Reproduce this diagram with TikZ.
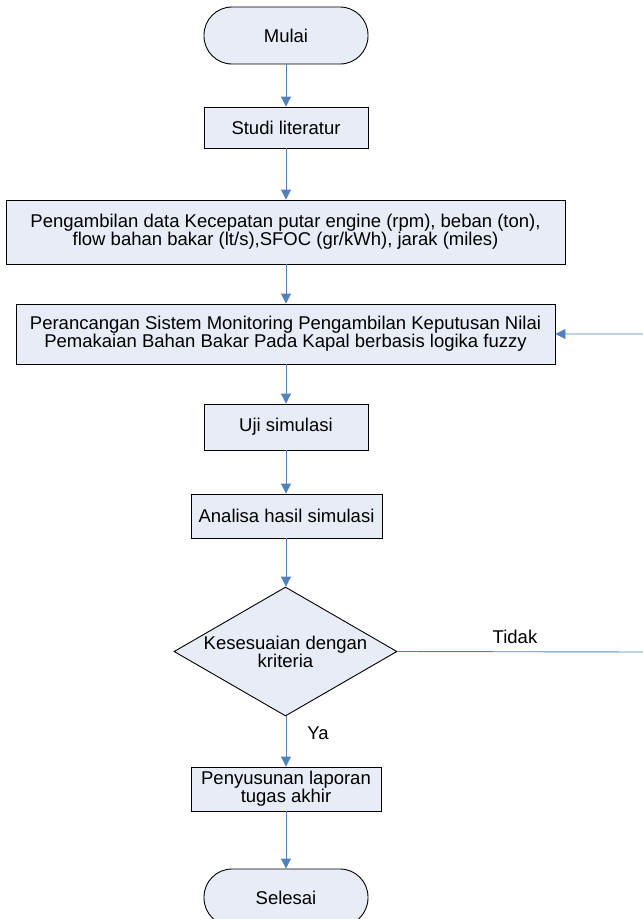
\documentclass[tikz,border=0pt]{standalone}
\usepackage{fontspec}
\setmainfont{Liberation Sans}
\usetikzlibrary{shapes.geometric,arrows.meta}
\definecolor{isian}{RGB}{231,236,247}
\definecolor{panah}{RGB}{79,129,189}
\begin{document}
\begin{tikzpicture}[x=1pt,y=-1pt,font=\fontsize{18.5}{18}\selectfont,
            proses/.style={draw=black,fill=isian,line width=0.9pt,align=center,inner sep=0pt},
            terminal/.style={proses,rounded corners=28pt,minimum width=164pt,minimum height=57pt},
            keputusan/.style={proses,diamond,aspect=1.73,minimum width=223pt,minimum height=129pt},
            alur/.style={draw=panah,line width=0.9pt,-{Triangle[length=10pt,width=10pt]}}]
            \useasboundingbox (0,0) rectangle (643,919);

            % Simpul
            \node[terminal] (mulai) at (286,35.5) {Mulai};
            \node[proses,minimum width=164pt,minimum height=41pt] (studi) at (286,127.5) {Studi literatur};
            \node[proses,minimum width=559pt,minimum height=64pt] (ambil) at (285.5,232) {Pengambilan data Kecepatan putar engine (rpm), beban (ton),\\ flow bahan bakar (lt/s),SFOC (gr/kWh), jarak (miles)};
            \node[proses,minimum width=539pt,minimum height=60pt] (rancang) at (285.5,334) {Perancangan Sistem Monitoring Pengambilan Keputusan Nilai\\ Pemakaian Bahan Bakar Pada Kapal berbasis logika fuzzy};
            \node[proses,minimum width=164pt,minimum height=46pt] (uji) at (286,427) {Uji simulasi};
            \node[proses,minimum width=191pt,minimum height=44pt] (analisa) at (286.5,516) {Analisa hasil simulasi};
            \node[keputusan] (cek) at (285.5,651.5) {Kesesuaian dengan\\ kriteria};
            \node[proses,minimum width=190pt,minimum height=44pt] (susun) at (286,789) {Penyusunan laporan\\ tugas akhir};
            \node[terminal] (selesai) at (286,897.5) {Selesai};
            \coordinate (balik) at (648,652);

            % Panah
            \draw[alur] (mulai) -- (studi);
            \draw[alur] (studi) -- (ambil.north -| studi);
            \draw[alur] (ambil.south -| studi) -- (rancang.north -| studi);
            \draw[alur] (rancang.south -| studi) -- (uji);
            \draw[alur] (uji) -- (analisa.north -| uji);
            \draw[alur] (analisa.south -| uji) -- (cek.north -| uji);
            \draw[alur] (cek.south -| uji) -- (susun.north -| uji);
            \draw[alur] (susun) -- (selesai);
            \draw[alur] (cek.east) -- (balik) |- (rancang.east);

            % Label
            \node (tidak) at (515,637) {Tidak};
            \node (ya) at (318,733) {Ya};
        \end{tikzpicture}
\end{document}
